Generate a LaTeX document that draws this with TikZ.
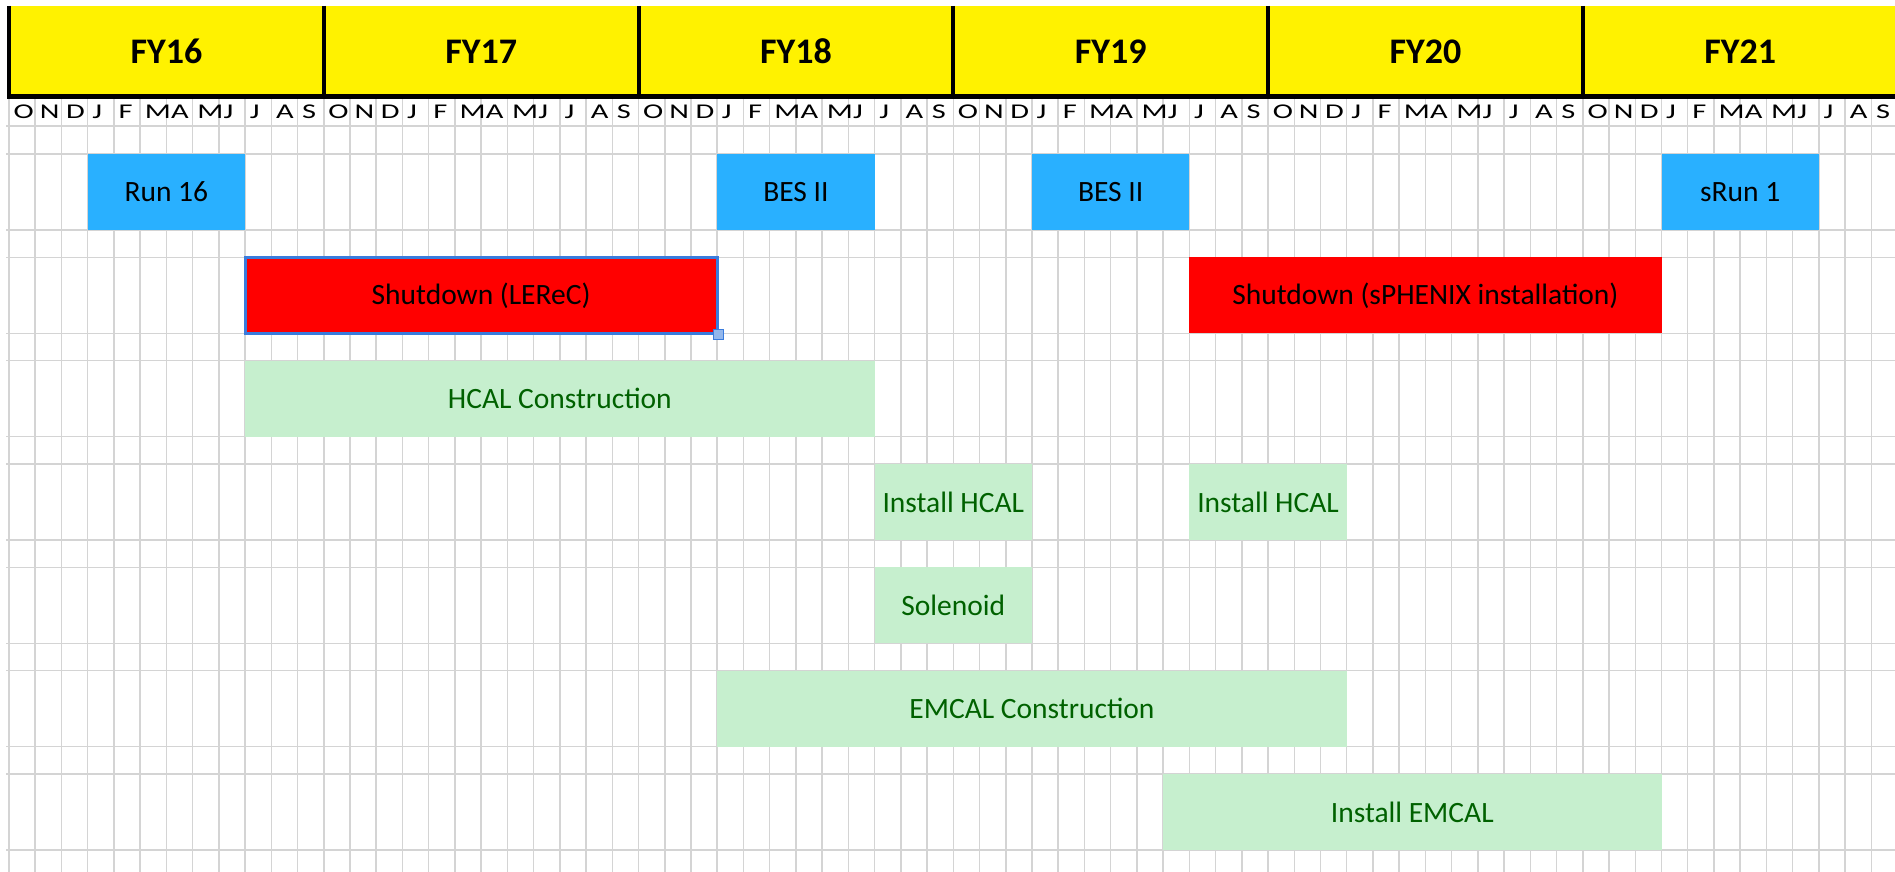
\documentclass[tikz,border=0pt]{standalone}
\usepackage{fontspec}
\setmainfont{Carlito}
\usetikzlibrary{calc,positioning}
\definecolor{runblue}{RGB}{41,176,255}
\definecolor{cellgreen}{RGB}{198,239,206}
\definecolor{textgreen}{RGB}{0,97,0}
\definecolor{selblue}{RGB}{58,124,221}
\definecolor{gridgray}{RGB}{212,212,212}

\begin{document}
\begin{tikzpicture}[x=1pt, y=-1pt,
    gridline/.style={draw=gridgray, line width=1.5pt},
    bar/.style={inner sep=0pt, minimum height=76pt, font=\fontsize{29.5}{30}\selectfont},
    runbar/.style={bar, fill=runblue},
    shutbar/.style={bar, fill=red},
    workbar/.style={bar, fill=cellgreen, text=textgreen},
    month/.style={anchor=west, inner sep=0pt, font=\fontsize{21}{21}\selectfont},
    year/.style={inner sep=0pt, font=\fontsize{36}{36}\selectfont\bfseries}
  ]
    \useasboundingbox (0,0) rectangle (1895,872);
    \fill[white] (0,0) rectangle (1895,872);

    \foreach \i in {0,...,72}
        \draw[gridline] (9+26.23*\i,97) -- (9+26.23*\i,872);
    \draw[gridline] (6,126) -- (1895,126);
    \foreach \r in {0,...,6} {
        \draw[gridline] (6,154+103.33*\r) -- (1895,154+103.33*\r);
        \draw[gridline] (6,230+103.33*\r) -- (1895,230+103.33*\r);
    }

    \fill[yellow] (9,6) rectangle (1898,97);
    \foreach \k in {0,...,6}
        \draw[line width=4pt] (9+314.76*\k,6) -- (9+314.76*\k,97);
    \draw[line width=4.5pt] (7,96.5) -- (1898,96.5);
    \foreach \fy [count=\k from 0] in {16,...,21}
        \node[year] (fy\fy) at (166.38+314.76*\k,51.5) {FY\fy};

    \foreach \yr in {0,...,5}
        \foreach \m [count=\i from 0] in {O,N,D,J,F,M,A,M,J,J,A,S}
            \node[month] (m-\yr-\i) at (13.5+26.23*12*\yr+26.23*\i,112) {\scalebox{1.45}[1]{\m}};

    \node[runbar, minimum width=157.38pt] (run16) at (166.38,192) {Run 16};
    \node[runbar, minimum width=157.38pt] (bes18) at (795.9,192) {BES II};
    \node[runbar, minimum width=157.38pt] (bes19) at (1110.66,192) {BES II};
    \node[runbar, minimum width=157.38pt] (srun1) at (1740.18,192) {sRun 1};

    \node[shutbar, minimum width=472.14pt, draw=selblue, line width=3pt] (lerec) at (481.14,295.3) {Shutdown (LEReC)};
    \node[draw=selblue, fill=selblue!55, line width=1pt, minimum size=10pt, inner sep=0pt] (lerecgrip) at (lerec.south east) {};
    \node[shutbar, minimum width=472.14pt] (sphenix) at (1425.42,295.3) {Shutdown (sPHENIX installation)};

    \node[workbar, minimum width=629.52pt] (hcalbuild) at (559.83,398.7) {HCAL Construction};
    \node[workbar, minimum width=157.38pt] (hcalinst1) at (953.28,502) {Install HCAL};
    \node[workbar, minimum width=157.38pt] (hcalinst2) at (1268.04,502) {Install HCAL};
    \node[workbar, minimum width=157.38pt] (solenoid) at (953.28,605.3) {Solenoid};
    \node[workbar, minimum width=629.52pt] (emcalbuild) at (1031.97,708.7) {EMCAL Construction};
    \node[workbar, minimum width=498.37pt] (emcalinst) at (1412.3,812) {Install EMCAL};
\end{tikzpicture}
\end{document}
